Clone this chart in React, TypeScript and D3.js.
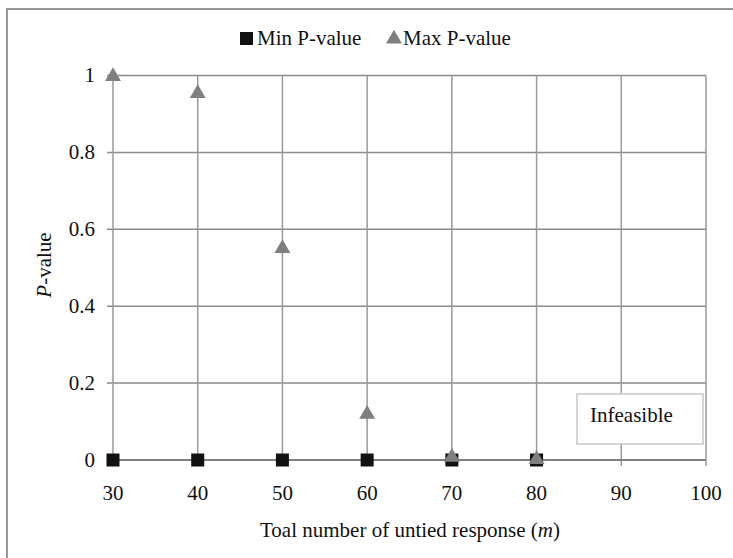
import React from "react";
import * as d3 from "d3";

const xValues = [30, 40, 50, 60, 70, 80];
const minP = [0, 0, 0, 0, 0, 0];
const maxP = [1.0, 0.956, 0.553, 0.122, 0.01, 0.004];
const xTicks = [30, 40, 50, 60, 70, 80, 90, 100];
const yTicks = [0, 0.2, 0.4, 0.6, 0.8, 1];

export default function App() {
  const W = 733, H = 558;
  const x = d3.scaleLinear().domain([30, 100]).range([113, 706]);
  const y = d3.scaleLinear().domain([0, 1]).range([460, 75.5]);
  const font = "'Liberation Serif', 'Times New Roman', serif";
  const grid = "#8a8a8a";
  const fs = 21;
  const tri = d3.symbol().type(d3.symbolTriangle).size(110);
  const triPath = tri() as string;

  return (
    <svg width={W} height={H} style={{ position: "absolute", left: 0, top: 0 }} fontFamily={font}>
      <rect x={0} y={0} width={W} height={H} fill="#fff" />
      <rect x={7} y={9} width={W + 10} height={H + 10} fill="none" stroke="#999" strokeWidth={2} />
      {yTicks.map((t) => (
        <line key={"h" + t} x1={x(30) - 6} x2={x(100)} y1={y(t)} y2={y(t)} stroke={grid} strokeWidth={1.5} />
      ))}
      {xTicks.map((t) => (
        <line key={"v" + t} x1={x(t)} x2={x(t)} y1={y(1)} y2={y(0) + 6} stroke="#9a9a9a" strokeWidth={1.5} />
      ))}
      <line x1={x(30)} x2={x(100)} y1={y(0)} y2={y(0)} stroke="#808080" strokeWidth={2} />
      {yTicks.map((t) => (
        <text key={"yl" + t} x={95} y={y(t)} dy="0.33em" textAnchor="end" fontSize={fs} fill="#111">
          {d3.format("~g")(t)}
        </text>
      ))}
      {xTicks.map((t) => (
        <text key={"xl" + t} x={x(t)} y={500} textAnchor="middle" fontSize={fs} fill="#111">
          {t}
        </text>
      ))}
      <rect x={577} y={394} width={126} height={50} fill="#fff" stroke="#c8c8c8" strokeWidth={1.5} />
      <text x={590} y={422} fontSize={fs} fill="#111">Infeasible</text>
      {xValues.map((v, i) => (
        <rect key={"m" + v} x={x(v) - 6.5} y={y(minP[i]) - 6.5} width={13} height={13} fill="#111" />
      ))}
      {xValues.map((v, i) => (
        <path key={"M" + v} d={triPath} transform={`translate(${x(v)},${y(maxP[i]) + 1})`} fill="#7f7f7f" />
      ))}
      <rect x={240} y={32} width={13} height={13} fill="#111" />
      <text x={257} y={45} fontSize={fs} fill="#111">Min P-value</text>
      <path d={triPath} transform="translate(394,39)" fill="#7f7f7f" />
      <text x={403} y={45} fontSize={fs} fill="#111">Max P-value</text>
      <text x={410} y={537} textAnchor="middle" fontSize={fs} fill="#111">
        Toal number of untied response (<tspan fontStyle="italic">m</tspan>)
      </text>
      <text transform={`translate(51,265) rotate(-90)`} textAnchor="middle" fontSize={fs} fill="#111">
        <tspan fontStyle="italic">P</tspan>-value
      </text>
    </svg>
  );
}
